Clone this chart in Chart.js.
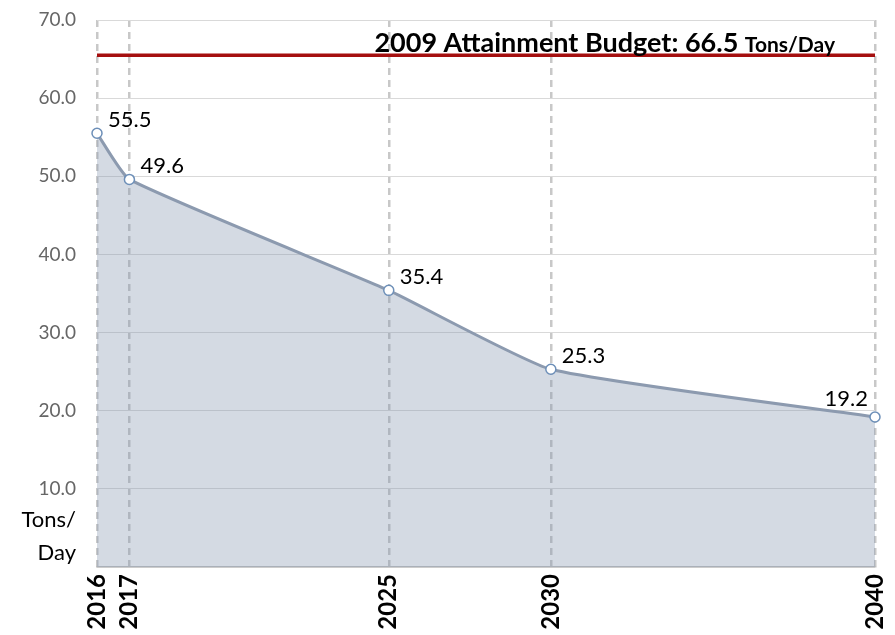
<!DOCTYPE html>
<html>
<head>
<meta charset="utf-8">
<script src="https://cdn.jsdelivr.net/npm/chart.js@4"></script>
<style>
  body { margin: 0; background: #fff; }
  #wrap { width: 895px; height: 635px; }
</style>
</head>
<body>
<div id="wrap"><canvas id="myChart" width="895" height="635"></canvas></div>
<script>
// data
var years = [2016, 2017, 2025, 2030, 2040]
var tons = [55.5, 49.6, 35.4, 25.3, 19.2]
var budgetLevel = 65.5
var budgetText = "2009 Attainment Budget: 66.5"
var budgetUnit = "Tons/Day"
var yTicks = [0, 10, 20, 30, 40, 50, 60, 70]

var font = "Lato, 'Liberation Sans', sans-serif"

var series = []
for (var i = 0; i < years.length; i++) series.push({x: years[i], y: tons[i]})
var budget = [{x: years[0], y: budgetLevel}, {x: years[years.length - 1], y: budgetLevel}]

// value labels, budget label and the "Tons/ Day" unit
var textPlugin = {
  id: 'texts',
  afterDatasetsDraw: function(chart) {
    var ctx = chart.ctx
    var meta = chart.getDatasetMeta(1)
    ctx.save()
    ctx.fillStyle = '#000'
    ctx.font = "22px " + font
    ctx.textBaseline = 'alphabetic'
    meta.data.forEach(function(pt, i) {
      var last = i == meta.data.length - 1
      ctx.textAlign = last ? 'right' : 'left'
      ctx.fillText(tons[i].toFixed(1), last ? pt.x - 7 : pt.x + 11, pt.y - (last ? 11 : 6))
    })

    var xs = chart.scales.x, ys = chart.scales.y
    var by = ys.getPixelForValue(budgetLevel) - 3
    ctx.textAlign = 'right'
    ctx.font = "bold 21px " + font
    var uw = ctx.measureText(budgetUnit).width
    var right = xs.right - 40
    ctx.fillText(budgetUnit, right, by)
    ctx.font = "bold 27px " + font
    ctx.fillText(budgetText + " ", right - uw, by)

    ctx.font = "22px " + font
    ctx.textAlign = 'right'
    var y0 = ys.getPixelForValue(0)
    ctx.fillText("Tons/", xs.left - 21, y0 - 40)
    ctx.fillText("Day", xs.left - 21, y0 - 7)
    ctx.restore()
  }
}

new Chart(document.getElementById('myChart').getContext('2d'), {
  type: 'line',
  data: {
    datasets: [
      {
        label: 'budget',
        data: budget,
        borderColor: '#a50f0f',
        borderWidth: 3.5,
        pointRadius: 0,
        fill: false
      },
      {
        label: 'tons',
        data: series,
        clip: false,
        borderColor: '#8c9aaf',
        borderWidth: 3,
        backgroundColor: 'rgba(132,150,176,0.35)',
        fill: 'origin',
        tension: 0.15,
        pointRadius: 5,
        pointBackgroundColor: '#fff',
        pointBorderColor: '#6d8fb8',
        pointBorderWidth: 1.5
      }
    ]
  },
  options: {
    responsive: false,
    animation: false,
    layout: {padding: {top: 20, right: 20, left: 0, bottom: 0}},
    plugins: {legend: {display: false}, tooltip: {enabled: false}},
    scales: {
      x: {
        type: 'linear',
        min: years[0],
        max: years[years.length - 1],
        afterBuildTicks: function(s) { s.ticks = years.map(function(v) { return {value: v} }) },
        afterFit: function(s) {
          s.height = 68
          s.paddingLeft = 0
          s.paddingRight = 0
        },
        grid: {color: '#c8c8c8', lineWidth: 2.5, drawTicks: false},
        border: {display: true, color: '#bfbfbf', width: 1.5, dash: [7, 5]},
        ticks: {
          autoSkip: false,
          minRotation: 90,
          maxRotation: 90,
          padding: 7,
          color: '#000',
          font: {family: font, size: 24, weight: 'bold'},
          callback: function(v) { return String(v) }
        }
      },
      y: {
        min: 0,
        max: 70,
        afterBuildTicks: function(s) { s.ticks = yTicks.map(function(v) { return {value: v} }) },
        afterFit: function(s) {
          s.width = 97
          s.paddingTop = 0
          s.paddingBottom = 0
        },
        grid: {color: '#d9d9d9', lineWidth: 1, drawTicks: false},
        border: {display: false},
        ticks: {
          padding: 21,
          color: '#666666',
          font: {family: font, size: 19},
          callback: function(v) { return v == 0 ? '' : v.toFixed(1) }
        }
      }
    }
  },
  plugins: [textPlugin]
})
</script>
</body>
</html>
